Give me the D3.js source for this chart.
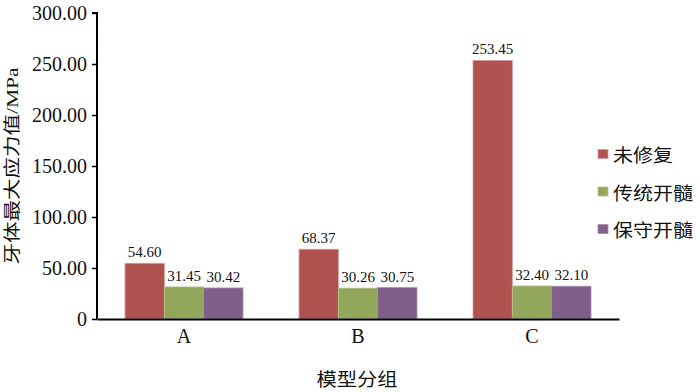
<!DOCTYPE html>
<html><head><meta charset="utf-8">
<script src="https://cdn.jsdelivr.net/npm/d3@7"></script>
<style>body{margin:0;background:#fff}</style>
</head><body><svg id="c" width="700" height="392"></svg>
<script>
const categories = ["A","B","C"];
const seriesNames = ["未修复","传统开髓","保守开髓"];
const untreated = [54.60, 68.37, 253.45];
const traditional = [31.45, 30.26, 32.40];
const conservative = [30.42, 30.75, 32.10];
const yTicks = [0,50,100,150,200,250,300];
const colors = ["#B05250","#93A75C","#80608A"];
const strokes = ["#D59A98","#B5C48E","#A48DAB"];

const series = [untreated, traditional, conservative];
const svg = d3.select("#c");
const serif = "'Liberation Serif','Times New Roman',serif";
const mixed = "'Liberation Serif','Noto Sans CJK SC',serif";
const x0 = 97, x1 = 619, yTop = 13, yBot = 319;

const x = d3.scaleBand().domain(categories).range([x0, x1]).paddingInner(0.322).paddingOuter(0.161);
const xs = d3.scaleBand().domain(d3.range(series.length)).range([0, x.bandwidth()]);
const y = d3.scaleLinear().domain([0,300]).range([yBot, yTop]);

categories.forEach((c, i) => {
  series.forEach((s, j) => {
    const bx = x(c) + xs(j);
    svg.append("rect").attr("x", bx).attr("y", y(s[i])).attr("width", xs.bandwidth()).attr("height", yBot - y(s[i]))
      .attr("fill", colors[j]).attr("stroke", strokes[j]).attr("stroke-width", 0.8);
    svg.append("text").attr("x", bx + xs.bandwidth()/2).attr("y", y(s[i]) - 6)
      .attr("text-anchor","middle").attr("font-family", serif).attr("font-size", 15).attr("fill","#111")
      .text(s[i].toFixed(2));
  });
});

const yAxis = svg.append("g").attr("transform", `translate(${x0},0)`)
  .call(d3.axisLeft(y).tickValues(yTicks).tickSize(5).tickPadding(5).tickFormat(d => d === 0 ? "0" : d.toFixed(2)));
yAxis.select(".domain").attr("stroke","#000").attr("stroke-width",2);
yAxis.selectAll(".tick line").attr("stroke","#000").attr("stroke-width",1.5);
yAxis.selectAll("text").attr("font-family", serif).attr("font-size", 20).attr("fill","#111");
yAxis.select(".domain").attr("d", `M-5,${yTop}H0V${yBot}`);

const xAxis = svg.append("g").attr("transform", `translate(0,${yBot})`)
  .call(d3.axisBottom(x).tickSize(0).tickPadding(10));
xAxis.select(".domain").attr("stroke","#000").attr("stroke-width",2);
xAxis.selectAll("text").attr("font-family", serif).attr("font-size", 20).attr("fill","#111");

svg.append("text").attr("transform", `translate(18,166) rotate(-90)`)
  .attr("text-anchor","middle").attr("font-family", mixed).attr("font-size", 17).attr("fill","#111")
  .attr("textLength", 197).attr("lengthAdjust","spacingAndGlyphs")
  .text("牙体最大应力值/MPa");
svg.append("text").attr("x", 357).attr("y", 386).attr("text-anchor","middle")
  .attr("font-family", mixed).attr("font-size", 18).attr("fill","#111")
  .attr("textLength", 81).attr("lengthAdjust","spacingAndGlyphs").text("模型分组");

const legend = svg.append("g");
seriesNames.forEach((n, j) => {
  const ly = 154 + j*37.5;
  legend.append("rect").attr("x", 598).attr("y", ly - 4.5).attr("width", 10).attr("height", 9).attr("fill", colors[j]).attr("stroke", strokes[j]).attr("stroke-width",0.8);
  legend.append("text").attr("x", 613).attr("y", ly + 8).attr("font-family", mixed).attr("font-size", 18).attr("fill","#111")
    .attr("textLength", n.length * 20).attr("lengthAdjust","spacingAndGlyphs").text(n);
});
</script></body></html>
